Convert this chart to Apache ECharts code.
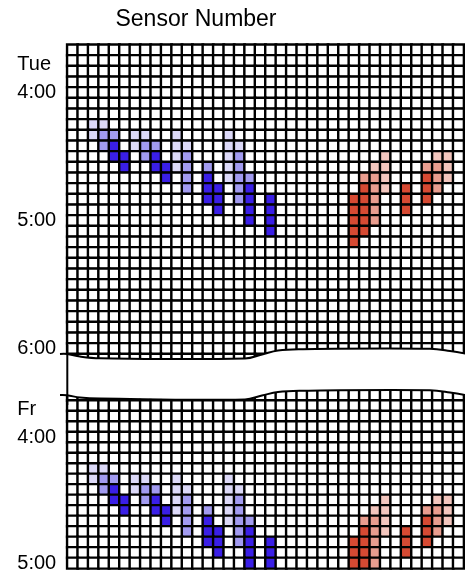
<!DOCTYPE html>
<html>
<head>
<meta charset="utf-8">
<script src="https://cdn.jsdelivr.net/npm/echarts@6/dist/echarts.min.js"></script>
<style>
html,body{margin:0;padding:0;background:#fff;}
#chart{width:465px;height:577px;}
</style>
</head>
<body>
<div id="chart"></div>
<script>
// Sensor categories (x axis)
const sensors = ['1','2','3','4','5','6','7','8','9','10','11','12','13','14','15','16','17','18','19','20',
  '21','22','23','24','25','26','27','28','29','30','31','32','33','34','35','36','37','38'];
// Time categories (y axis)
const tueTimes = ['3:40','3:45','3:50','3:55','4:00','4:05','4:10','4:15','4:20','4:25','4:30','4:35','4:40','4:45','4:50','4:55',
  '5:00','5:05','5:10','5:15','5:20','5:25','5:30','5:35','5:40','5:45','5:50','5:55','6:00','6:05'];
const friTimes = ['3:40','3:45','3:50','3:55','4:00','4:05','4:10','4:15','4:20','4:25','4:30','4:35','4:40','4:45','4:50','4:55','5:00'];
// Tick labels shown
const tueLabels = {'4:00':'Tue\n4:00\n ', '5:00':'5:00', '6:00':'6:00'};
const friLabels = {'4:00':'Fr\n4:00\n ', '5:00':'5:00'};
// Non-empty cells: [time, sensor, level]  (negative = blue, positive = red)
const tueCells = [
  ['4:15','3',-1],['4:15','4',-1],
  ['4:20','3',-1],['4:20','4',-2],['4:20','5',-2],['4:20','7',-1],['4:20','8',-1],['4:20','11',-1],['4:20','16',-1],
  ['4:25','4',-2],['4:25','5',-3],['4:25','7',-1],['4:25','8',-2],['4:25','9',-2],['4:25','11',-1],['4:25','12',-1],['4:25','16',-1],['4:25','17',-1],
  ['4:30','5',-3],['4:30','6',-3],['4:30','8',-2],['4:30','9',-3],['4:30','11',-1],['4:30','12',-2],['4:30','16',-1],['4:30','17',-2],['4:30','31',1],['4:30','36',1],['4:30','37',1],
  ['4:35','6',-3],['4:35','9',-3],['4:35','10',-3],['4:35','11',-1],['4:35','12',-2],['4:35','14',-2],['4:35','16',-1],['4:35','17',-2],['4:35','30',1],['4:35','31',1],['4:35','35',2],['4:35','36',2],['4:35','37',1],
  ['4:40','10',-3],['4:40','12',-2],['4:40','14',-3],['4:40','16',-1],['4:40','17',-2],['4:40','18',-2],['4:40','29',2],['4:40','30',2],['4:40','31',1],['4:40','35',3],['4:40','36',2],['4:40','37',1],
  ['4:45','12',-2],['4:45','14',-3],['4:45','15',-3],['4:45','17',-2],['4:45','18',-3],['4:45','29',3],['4:45','30',2],['4:45','31',1],['4:45','33',3],['4:45','35',3],['4:45','36',2],
  ['4:50','14',-3],['4:50','15',-3],['4:50','17',-2],['4:50','18',-3],['4:50','20',-3],['4:50','28',3],['4:50','29',3],['4:50','30',2],['4:50','33',3],['4:50','35',3],
  ['4:55','15',-3],['4:55','18',-3],['4:55','20',-3],['4:55','28',3],['4:55','29',3],['4:55','30',2],['4:55','33',3],
  ['5:00','18',-3],['5:00','20',-3],['5:00','28',3],['5:00','29',3],['5:00','30',2],
  ['5:05','20',-3],['5:05','28',3],['5:05','29',3],
  ['5:10','28',3]
];
const friCells = [
  ['4:15','3',-1],['4:15','4',-1],
  ['4:20','3',-1],['4:20','4',-2],['4:20','5',-2],['4:20','7',-1],['4:20','8',-1],['4:20','11',-1],['4:20','16',-1],
  ['4:25','4',-2],['4:25','5',-3],['4:25','7',-1],['4:25','8',-2],['4:25','9',-2],['4:25','11',-1],['4:25','12',-1],['4:25','16',-1],['4:25','17',-1],
  ['4:30','5',-3],['4:30','6',-3],['4:30','8',-2],['4:30','9',-3],['4:30','11',-1],['4:30','12',-2],['4:30','16',-1],['4:30','17',-2],['4:30','31',1],['4:30','36',1],['4:30','37',1],
  ['4:35','6',-3],['4:35','9',-3],['4:35','10',-3],['4:35','11',-1],['4:35','12',-2],['4:35','14',-2],['4:35','16',-1],['4:35','17',-2],['4:35','30',1],['4:35','31',1],['4:35','35',2],['4:35','36',2],['4:35','37',1],
  ['4:40','10',-3],['4:40','12',-2],['4:40','14',-3],['4:40','16',-1],['4:40','17',-2],['4:40','18',-2],['4:40','29',2],['4:40','30',2],['4:40','31',1],['4:40','35',3],['4:40','36',2],['4:40','37',1],
  ['4:45','12',-2],['4:45','14',-3],['4:45','15',-3],['4:45','17',-2],['4:45','18',-3],['4:45','29',3],['4:45','30',2],['4:45','31',1],['4:45','33',3],['4:45','35',3],['4:45','36',2],
  ['4:50','14',-3],['4:50','15',-3],['4:50','17',-2],['4:50','18',-3],['4:50','20',-3],['4:50','28',3],['4:50','29',3],['4:50','30',2],['4:50','33',3],['4:50','35',3],
  ['4:55','15',-3],['4:55','18',-3],['4:55','20',-3],['4:55','28',3],['4:55','29',3],['4:55','30',2],['4:55','33',3],
  ['5:00','18',-3],['5:00','20',-3],['5:00','28',3],['5:00','29',3],['5:00','30',2]
];

function buildGrid(times, cells) {
  const map = {};
  cells.forEach(c => { map[c[0] + '|' + c[1]] = c[2]; });
  const out = [];
  times.forEach((t, yi) => {
    sensors.forEach((s, xi) => {
      const v = map[t + '|' + s];
      out.push([xi, yi, v === undefined ? 0 : v]);
    });
  });
  return out;
}

const chart = echarts.init(document.getElementById('chart'), null, {renderer: 'canvas'});

const ROW = 10.667, COL = 10.43, LEFT = 67.3;
const labelStyle = {fontFamily: 'Liberation Sans, Arial, sans-serif', fontSize: 20, color: '#000', align: 'left', margin: 50, lineHeight: 28, interval: 0};

const topEdge = [[60,354],[67,354],[80,356.6],[100,358.3],[245,358.5],[262,354.5],[278,350.5],[300,349.2],[430,348.8],[450,351],[470,354.5]];
const botEdge = [[60,395],[67,395.2],[80,397.6],[100,398.6],[245,399.4],[262,395.5],[278,392],[300,390.8],[430,390.3],[450,392.5],[470,396]];

const option = {
  animation: false,
  title: {
    text: 'Sensor Number', left: 191, top: 3, textAlign: 'center',
    textStyle: {fontFamily: 'Liberation Sans, Arial, sans-serif', fontSize: 23, fontWeight: 'normal', color: '#000'}
  },
  grid: [
    {left: LEFT, top: 44.7, width: COL * sensors.length, height: ROW * tueTimes.length},
    {left: LEFT, top: 390, width: COL * sensors.length, height: ROW * friTimes.length}
  ],
  xAxis: [
    {type: 'category', gridIndex: 0, data: sensors, show: false},
    {type: 'category', gridIndex: 1, data: sensors, show: false}
  ],
  yAxis: [
    {type: 'category', gridIndex: 0, data: tueTimes, inverse: true,
     axisLine: {show: false}, axisTick: {show: false}, splitLine: {show: false},
     axisLabel: Object.assign({}, labelStyle, {formatter: v => tueLabels[v] || ''})},
    {type: 'category', gridIndex: 1, data: friTimes, inverse: true,
     axisLine: {show: false}, axisTick: {show: false}, splitLine: {show: false},
     axisLabel: Object.assign({}, labelStyle, {formatter: v => friLabels[v] || ''})}
  ],
  visualMap: {
    type: 'piecewise', show: false, dimension: 2, seriesIndex: [0, 1],
    pieces: [
      {value: -3, color: '#3a1fe6'},
      {value: -2, color: '#a29bf0'},
      {value: -1, color: '#dcd9f8'},
      {value: 0, color: '#ffffff'},
      {value: 1, color: '#f3c6be'},
      {value: 2, color: '#e99d8f'},
      {value: 3, color: '#d64a33'}
    ]
  },
  series: [
    {type: 'heatmap', xAxisIndex: 0, yAxisIndex: 0, data: buildGrid(tueTimes, tueCells),
     itemStyle: {borderColor: '#000', borderWidth: 2.4}, emphasis: {disabled: true}, silent: true},
    {type: 'heatmap', xAxisIndex: 1, yAxisIndex: 1, data: buildGrid(friTimes, friCells),
     itemStyle: {borderColor: '#000', borderWidth: 2.4}, emphasis: {disabled: true}, silent: true}
  ],
  graphic: [
    {type: 'polygon', z: 100, silent: true,
     shape: {points: topEdge.concat(botEdge.slice().reverse()), smooth: 0},
     style: {fill: '#fff'}},
    {type: 'polyline', z: 101, silent: true, shape: {points: topEdge, smooth: 0.4},
     style: {stroke: '#000', lineWidth: 2, fill: null}},
    {type: 'polyline', z: 101, silent: true, shape: {points: botEdge, smooth: 0.4},
     style: {stroke: '#000', lineWidth: 2, fill: null}},
    {type: 'line', z: 103, silent: true, shape: {x1: LEFT, y1: 345, x2: LEFT, y2: 405},
     style: {stroke: '#000', lineWidth: 2}}
  ]
};
chart.setOption(option);
</script>
</body>
</html>
